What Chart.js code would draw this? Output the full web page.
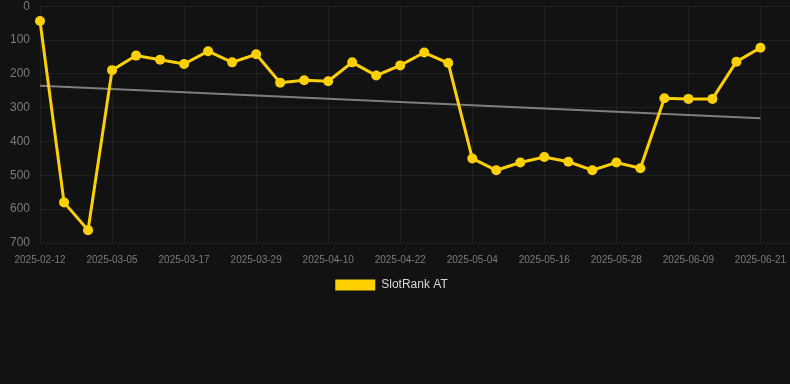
<!DOCTYPE html>
<html>
<head>
<meta charset="utf-8">
<script src="https://cdn.jsdelivr.net/npm/chart.js@4.4.1/dist/chart.umd.min.js"></script>
<style>
    html, body { margin: 0; padding: 0; background: #121212; overflow: hidden; }
    #wrap { position: relative; width: 797px; height: 312px; margin-top: -11px; }
</style>
</head>
<body>
<div id="wrap"><canvas id="rankChart"></canvas></div>
<script>
// Dates on the x axis (one point per entry)
const dates = [
    '2025-02-12', '2025-02-25', '2025-03-01', '2025-03-05', '2025-03-09', '2025-03-13',
    '2025-03-17', '2025-03-21', '2025-03-25', '2025-03-29', '2025-04-02', '2025-04-06',
    '2025-04-10', '2025-04-14', '2025-04-18', '2025-04-22', '2025-04-26', '2025-04-30',
    '2025-05-04', '2025-05-08', '2025-05-12', '2025-05-16', '2025-05-20', '2025-05-24',
    '2025-05-28', '2025-06-01', '2025-06-05', '2025-06-09', '2025-06-13', '2025-06-17',
    '2025-06-21'
];

// SlotRank AT position (lower is better, axis is reversed)
const rankValues = [
    44, 580, 662, 189, 146, 158, 171, 133, 166, 142, 226, 219,
    222, 166, 205, 175, 137, 168, 450, 485, 462, 446, 460, 485,
    462, 479, 272, 274, 274, 164, 123
];

// Trend line end values
const trendStart = 235;
const trendEnd = 331;

const yTicks = [0, 100, 200, 300, 400, 500, 600, 700];

const YELLOW = 'rgb(255, 208, 0)';
const TICK_COLOR = '#7b7b7b';
const GRID_COLOR = 'rgba(255, 255, 255, 0.06)';

// x is the point index so the axis can run a bit past the last date
const rankPoints = rankValues.map((v, i) => ({ x: i, y: v }));
const trendPoints = [
    { x: 0, y: trendStart },
    { x: dates.length - 1, y: trendEnd }
];

// nudge the legend a little left so it sits centred like the original
const legendShift = {
    id: 'legendShift',
    afterLayout(chart) {
        if (chart.legend) {
            chart.legend.left -= 7;
            chart.legend.right -= 7;
        }
    }
};

const ctx = document.getElementById('rankChart').getContext('2d');

const rankChart = new Chart(ctx, {
    type: 'line',
    plugins: [legendShift],
    data: {
        datasets: [
            {
                label: 'SlotRank AT',
                data: rankPoints,
                borderColor: YELLOW,
                backgroundColor: YELLOW,
                borderWidth: 3,
                pointRadius: 5,
                pointBackgroundColor: YELLOW,
                pointBorderWidth: 0,
                tension: 0,
                clip: false,
                order: 1
            },
            {
                label: 'trend',
                data: trendPoints,
                borderColor: 'rgba(140, 140, 140, 0.9)',
                borderWidth: 2,
                pointRadius: 0,
                fill: false,
                order: 2
            }
        ]
    },
    options: {
        responsive: true,
        maintainAspectRatio: false,
        animation: false,
        events: [],
        layout: { autoPadding: false, padding: 0 },
        plugins: {
            legend: {
                display: true,
                position: 'bottom',
                labels: {
                    color: '#d8d8d8',
                    boxWidth: 40,
                    boxHeight: 11,
                    padding: 2,
                    font: { family: 'Liberation Sans, Arial, sans-serif', size: 12 },
                    generateLabels: chart => Chart.defaults.plugins.legend.labels
                        .generateLabels(chart)
                        .filter(item => item.text !== 'trend')
                        .map(item => ({ ...item, lineWidth: 0 }))
                }
            },
            tooltip: { enabled: false }
        },
        scales: {
            x: {
                type: 'linear',
                min: 0,
                max: 31.25,
                grid: {
                    color: GRID_COLOR,
                    drawTicks: false
                },
                border: { display: false },
                afterBuildTicks: scale => {
                    scale.ticks = dates
                        .map((d, i) => ({ value: i }))
                        .filter(t => t.value % 3 === 0);
                },
                ticks: {
                    color: TICK_COLOR,
                    padding: 11,
                    maxRotation: 0,
                    autoSkip: false,
                    font: { family: 'Liberation Sans, Arial, sans-serif', size: 10 },
                    callback: value => dates[value]
                }
            },
            y: {
                reverse: true,
                min: 0,
                max: 700,
                afterBuildTicks: scale => {
                    scale.ticks = yTicks.map(v => ({ value: v }));
                },
                grid: {
                    color: GRID_COLOR,
                    drawTicks: false
                },
                border: { display: false },
                ticks: {
                    color: TICK_COLOR,
                    padding: 10,
                    font: { family: 'Liberation Sans, Arial, sans-serif', size: 12 }
                }
            }
        }
    }
});
</script>
</body>
</html>
